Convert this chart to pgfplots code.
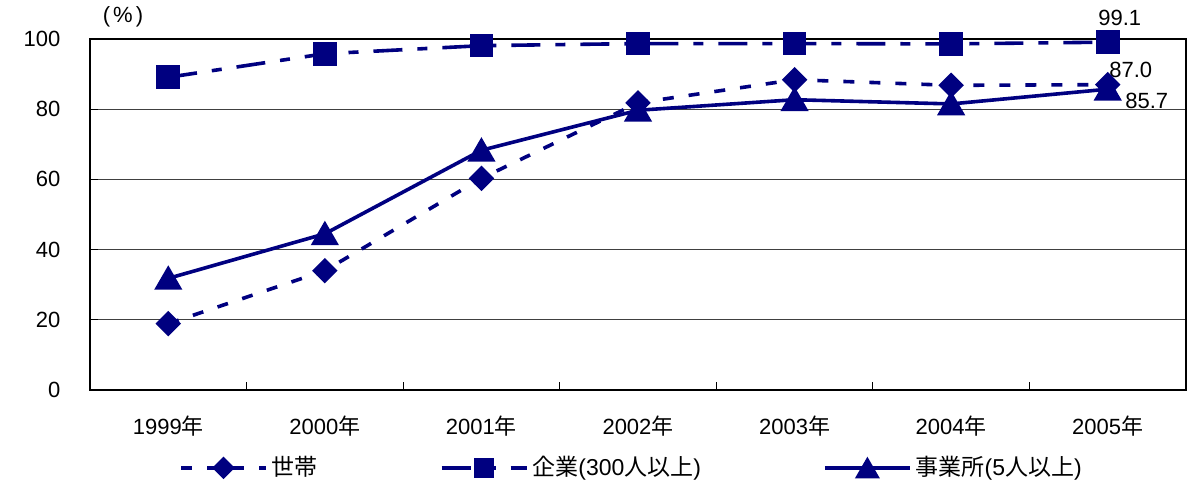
\documentclass[border=0pt]{standalone}
\usepackage{fontspec}
\setmainfont{Liberation Sans}
\newfontfamily\jp{Noto Sans CJK JP}
\usepackage{pgfplots}
\pgfplotsset{compat=1.18}
\definecolor{navy}{RGB}{0,0,128}
\newcommand{\nen}{{\jp 年}}

% Diffusion rates (%), 1999--2005
\pgfplotstableread{
x setai kigyo jigyosho
0 18.9 89.1 31.8
1 34.0 95.8 44.5
2 60.3 98.1 68.3
3 81.8 98.7 79.7
4 88.4 98.7 82.7
5 86.8 98.6 81.5
6 87.0 99.1 85.7
}\rates

\begin{document}
\fontsize{11pt}{13pt}\selectfont
\begin{tikzpicture}[font=\fontsize{11pt}{13pt}\selectfont]
\useasboundingbox (-45pt,-48pt) rectangle (549.5pt,195pt);
\begin{axis}[
  at={(0,0)}, anchor=south west,
  scale only axis, width=548pt, height=175.5pt,
  xmin=-0.5, xmax=6.5, ymin=0, ymax=100,
  clip=false,
  axis line style={black, line width=0.75pt},
  xtick={0,1,2,3,4,5,6},
  xticklabels={1999\nen,2000\nen,2001\nen,2002\nen,2003\nen,2004\nen,2005\nen},
  major x tick style={draw=none},
  minor xtick={0.5,1.5,2.5,3.5,4.5,5.5},
  minor tick length=4pt,
  major tick length=4pt,
  tick align=inside,
  xtick pos=bottom, ytick pos=left,
  ytick={0,20,40,60,80,100},
  tick style={black, line width=0.5pt},
  ymajorgrids,
  grid style={black!75, line width=0.5pt},
  /pgf/number format/assume math mode=true,
  yticklabel style={xshift=-11pt},
  xticklabel style={yshift=-9pt},
  legend style={at={(0.495,-0.222)}, anchor=center, draw=none, fill=none,
    inner sep=0pt, legend columns=3,
    font=\fontsize{11.5pt}{13pt}\selectfont,
    /tikz/every even column/.append style={column sep=59pt}},
  legend image code/.code={
    \draw[mark repeat=2, mark phase=2, #1, every mark/.append style={scale=0.85}]
      plot coordinates {(0pt,0pt) (21.25pt,0pt) (42.5pt,0pt)};
  },
]
\addplot[navy, line width=1.8pt, dash pattern=on 5.5pt off 7.5pt,
  mark=square*, mark size=3.6pt,
  mark options={solid, rotate=45, fill=navy}]
  table[x=x, y=setai] {\rates};
\addlegendentry{{\jp 世帯}}

\addplot[navy, line width=1.8pt,
  dash pattern=on 14.5pt off 7.5pt on 5pt off 7.5pt,
  mark=square*, mark size=5pt, mark options={solid, fill=navy}]
  table[x=x, y=kigyo] {\rates};
\addlegendentry{{\jp 企業}(300{\jp 人以上})}

\addplot[navy, line width=1.8pt,
  mark=triangle*, mark size=6.35pt,
  mark options={solid, fill=navy, yshift=-1.6pt}]
  table[x=x, y=jigyosho] {\rates};
\addlegendentry{{\jp 事業所}(5{\jp 人以上})}

% value labels on the 2005 points
\node at (axis cs:6,99.1) [xshift=6pt, yshift=12pt] {99.1};
\node at (axis cs:6,87.0) [xshift=11.5pt, yshift=7.25pt] {87.0};
\node at (axis cs:6,85.7) [xshift=19.5pt, yshift=-6pt] {85.7};

% unit label
\node at (rel axis cs:0,1) [xshift=16.5pt, yshift=11pt] {(\hspace{1.5pt}\%\hspace{1.5pt})};
\end{axis}
\end{tikzpicture}
\end{document}
